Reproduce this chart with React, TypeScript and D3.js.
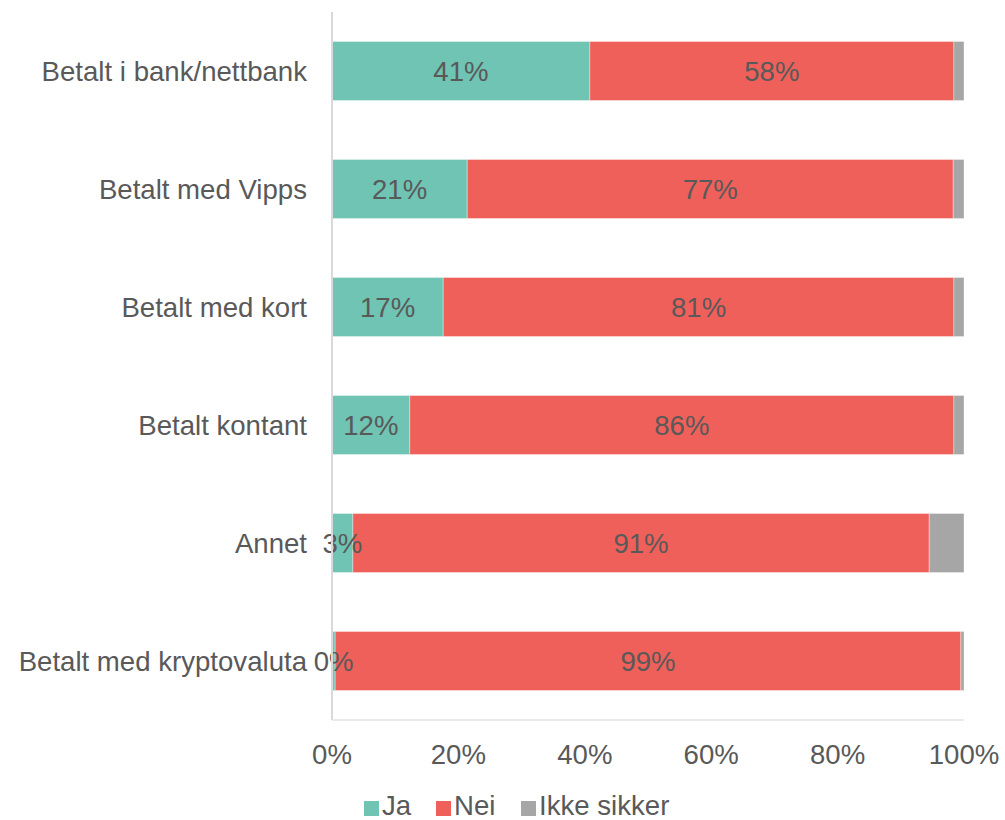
import React from "react";
import * as d3 from "d3";

const categories = [
  "Betalt i bank/nettbank",
  "Betalt med Vipps",
  "Betalt med kort",
  "Betalt kontant",
  "Annet",
  "Betalt med kryptovaluta",
];
const ja = [40.8, 21.4, 17.6, 12.3, 3.3, 0.5];
const nei = [57.6, 76.9, 80.8, 86.1, 91.2, 99.0];
const ikke = [1.6, 1.7, 1.6, 1.6, 5.5, 0.5];
const jaLabels = ["41%", "21%", "17%", "12%", "3%", "0%"];
const neiLabels = ["58%", "77%", "81%", "86%", "91%", "99%"];
const xTicks = [0, 20, 40, 60, 80, 100];
const seriesNames = ["Ja", "Nei", "Ikke sikker"];
const colors = ["#70C4B4", "#F0605A", "#A6A6A6"];

const W = 1005;
const H = 820;
const left = 332;
const right = 964;
const top = 12;
const bottom = 720;
const FONT = "'Liberation Sans', Arial, sans-serif";
const TEXT = "#595959";
const FS = 27.6;

export default function App() {
  const x = d3.scaleLinear().domain([0, 100]).range([left, right]);
  const y = d3.scaleBand<string>().domain(categories).range([top, bottom]).paddingInner(0.5).paddingOuter(0.25);
  const series = [ja, nei, ikke];

  return (
    <svg width={W} height={H} style={{ position: "absolute", left: 0, top: 0, fontFamily: FONT }}>
      <rect width={W} height={H} fill="#fff" />
      {categories.map((c, i) => {
        let acc = 0;
        const y0 = y(c)!;
        return (
          <g key={c}>
            {series.map((s, k) => {
              const x0 = x(acc);
              acc += s[i];
              const x1 = x(acc);
              return (
                <rect key={k} x={x0} y={y0} width={Math.max(0, x1 - x0)} height={y.bandwidth()} fill={colors[k]} stroke="#fff" strokeOpacity={0.35} strokeWidth={1} />
              );
            })}
            <text x={x(ja[i] / 2)} y={y0 + y.bandwidth() / 2} dy="0.36em" textAnchor="middle" fontSize={FS} fill={TEXT}>
              {jaLabels[i]}
            </text>
            <text x={x(ja[i] + nei[i] / 2)} y={y0 + y.bandwidth() / 2} dy="0.36em" textAnchor="middle" fontSize={FS} fill={TEXT}>
              {neiLabels[i]}
            </text>
            <text x={307} y={y0 + y.bandwidth() / 2} dy="0.36em" textAnchor="end" fontSize={FS} fill={TEXT}>
              {c}
            </text>
          </g>
        );
      })}
      <line x1={left} x2={left} y1={top} y2={bottom} stroke="#D9D9D9" strokeWidth={2} />
      <line x1={left} x2={right} y1={bottom} y2={bottom} stroke="#E3E3E3" strokeWidth={1.5} />
      {xTicks.map((t) => (
        <text key={t} x={x(t)} y={764} textAnchor="middle" fontSize={FS} fill={TEXT}>
          {t}%
        </text>
      ))}
      {(() => {
        const pos = [364, 436, 521];
        return seriesNames.map((n, k) => (
          <g key={n}>
            <rect x={pos[k]} y={801} width={15} height={15} fill={colors[k]} />
            <text x={pos[k] + 18} y={815} fontSize={FS} fill={TEXT}>
              {n}
            </text>
          </g>
        ));
      })()}
    </svg>
  );
}
